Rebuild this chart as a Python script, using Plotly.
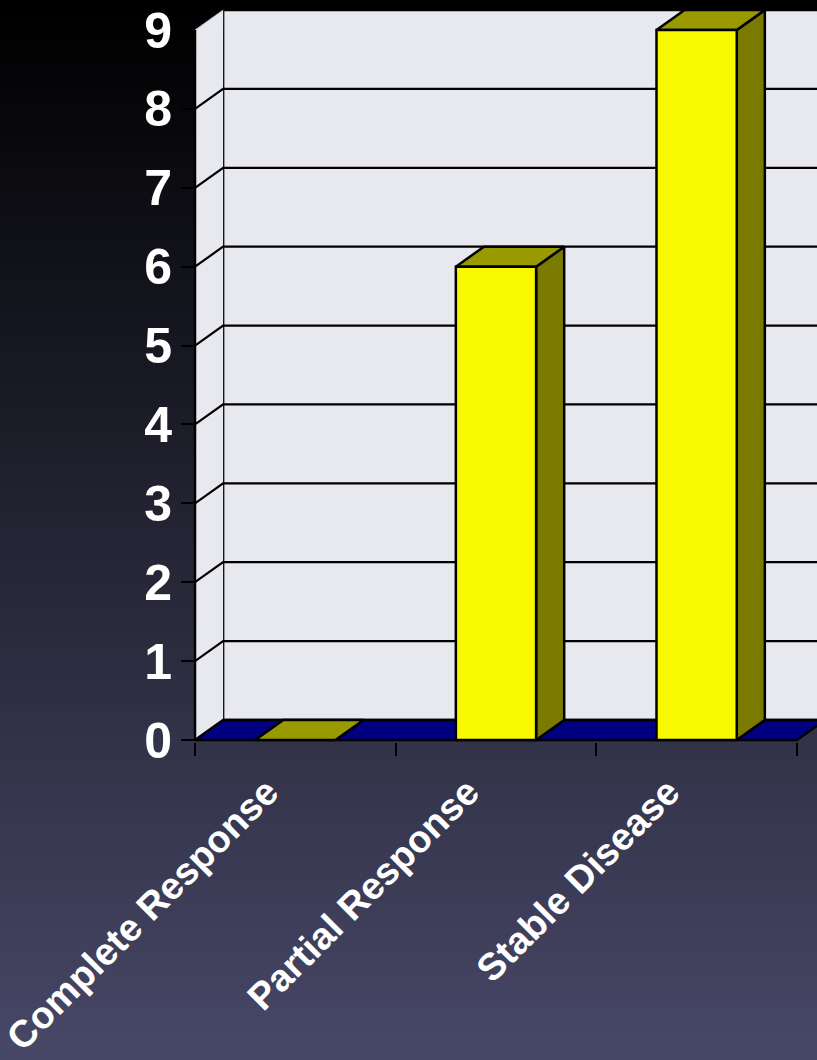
import plotly.graph_objects as go

# ---- data -------------------------------------------------------------
categories = ["Complete Response", "Partial Response", "Stable Disease"]
values = [0, 6, 9]
y_ticks = [0, 1, 2, 3, 4, 5, 6, 7, 8, 9]

# ---- styling of the pseudo 3-D box -------------------------------------
DEPTH_X = 0.14      # oblique depth, x axis units
DEPTH_Y = 0.2535    # oblique depth, y axis units
HALF_BAR = 0.2      # half bar width, category units
Y_TOP = max(y_ticks)

WALL = "#e8e9ee"
FLOOR = "#000080"
FRONT = "#f8f800"
TOP = "#999900"
SIDE = "#7a7a00"
FONT = "Liberation Sans"

fig = go.Figure()


def poly(xs, ys, fill, lw=2, lc="black"):
    fig.add_trace(go.Scatter(
        x=xs + [xs[0]], y=ys + [ys[0]], mode="lines", fill="toself",
        fillcolor=fill, line=dict(color=lc, width=lw),
        hoverinfo="skip", showlegend=False))


def seg(xs, ys, lw=2, color="black"):
    fig.add_trace(go.Scatter(
        x=xs, y=ys, mode="lines", line=dict(color=color, width=lw),
        hoverinfo="skip", showlegend=False))


x_left = -0.5
x_right = len(categories) - 0.5

# back wall
poly([x_left + DEPTH_X, x_right + DEPTH_X, x_right + DEPTH_X, x_left + DEPTH_X],
     [DEPTH_Y, DEPTH_Y, Y_TOP + DEPTH_Y, Y_TOP + DEPTH_Y], WALL, lw=2.5)
# left side wall
poly([x_left, x_left + DEPTH_X, x_left + DEPTH_X, x_left],
     [0, DEPTH_Y, Y_TOP + DEPTH_Y, Y_TOP], WALL, lw=0)

# gridlines: diagonal on the side wall, horizontal on the back wall
for v in y_ticks[1:]:
    if v == Y_TOP:
        seg([x_left, x_left + DEPTH_X], [v, v + DEPTH_Y], lw=1, color="#b0b0b8")
    else:
        seg([x_left, x_left + DEPTH_X, x_right + DEPTH_X],
            [v, v + DEPTH_Y, v + DEPTH_Y], lw=2.2)

# floor
poly([x_left, x_right, x_right + DEPTH_X, x_left + DEPTH_X],
     [0, 0, DEPTH_Y, DEPTH_Y], FLOOR, lw=2.5)

# value axis line
seg([x_left, x_left], [0, Y_TOP], lw=2.5)

# bars: side, top and front faces
for i, v in enumerate(values):
    l, r = i - HALF_BAR, i + HALF_BAR
    if v > 0:
        poly([r, r + DEPTH_X, r + DEPTH_X, r], [0, DEPTH_Y, v + DEPTH_Y, v], SIDE, lw=2.5)
    poly([l, r, r + DEPTH_X, l + DEPTH_X], [v, v, v + DEPTH_Y, v + DEPTH_Y], TOP, lw=2.5)
    if v > 0:
        poly([l, r, r, l], [0, 0, v, v], FRONT, lw=2.5)

# ---- background gradient ----------------------------------------------
H, W = 1060, 817
plot_h = 742
band = 4
shapes = []
for y0 in range(0, H, band):
    t = (y0 + band / 2) / H
    c = f"rgb({int(72 * t)},{int(72 * t)},{int(104 * t)})"
    shapes.append(dict(
        type="rect", xref="paper", yref="paper", layer="below",
        x0=-1, x1=2, y0=(plot_h - y0) / plot_h, y1=(plot_h - y0 - band - 1) / plot_h,
        fillcolor=c, line=dict(width=0)))

fig.update_layout(
    width=W, height=H,
    margin=dict(l=181, r=0, t=0, b=H - plot_h),
    paper_bgcolor="black",
    plot_bgcolor="rgba(0,0,0,0)",
    shapes=shapes,
    showlegend=False,
    xaxis=dict(
        range=[-0.5698, 2.6], automargin=False,
        tickmode="array", tickvals=list(range(len(categories))), ticktext=categories,
        tickangle=-45, ticks="",
        tickfont=dict(family=FONT, size=38, color="white", weight="bold"),
        ticklabelshift=-28, ticklabelstandoff=19,
        ticklabeloverflow="allow",
        showgrid=False, zeroline=False, showline=False, fixedrange=True,
        minor=dict(tick0=-0.5, dtick=1, ticks="outside", ticklen=13,
                   tickwidth=2, tickcolor="black", showgrid=False),
    ),
    yaxis=dict(
        range=[-0.0254, 9.3803], automargin=False,
        tickmode="array", tickvals=y_ticks,
        ticks="inside", ticklen=14, tickwidth=2, tickcolor="black",
        tickfont=dict(family=FONT, size=50, color="white", weight="bold"),
        ticklabelstandoff=8,
        showgrid=False, zeroline=False, showline=False, fixedrange=True,
    ),
)

fig.write_html("out.html")
